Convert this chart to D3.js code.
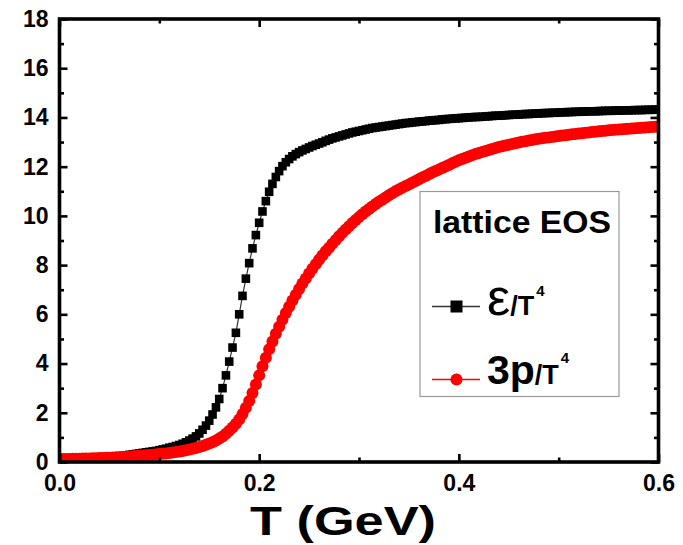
<!DOCTYPE html>
<html>
<head>
<meta charset="utf-8">
<script src="https://cdn.jsdelivr.net/npm/d3@7"></script>
<style>
  html, body { margin: 0; padding: 0; background: #fff; }
  svg { display: block; }
  text { font-family: "Liberation Sans", Arial, sans-serif; font-weight: bold; fill: #000; }
</style>
</head>
<body>
<svg id="chart" width="683" height="545"></svg>
<script>
// ---------- data ----------
// temperature grid (GeV), one entry per plotted marker
const temperature = [
  0.0000,0.0033,0.0067,0.0100,0.0133,0.0167,0.0200,0.0233,0.0267,0.0300,
  0.0333,0.0367,0.0400,0.0433,0.0467,0.0500,0.0533,0.0567,0.0600,0.0633,
  0.0667,0.0700,0.0733,0.0767,0.0800,0.0833,0.0867,0.0900,0.0933,0.0967,
  0.1000,0.1033,0.1067,0.1100,0.1133,0.1167,0.1200,0.1233,0.1267,0.1300,
  0.1333,0.1367,0.1400,0.1433,0.1467,0.1500,0.1533,0.1567,0.1600,0.1633,
  0.1667,0.1700,0.1733,0.1767,0.1800,0.1833,0.1867,0.1900,0.1933,0.1967,
  0.2000,0.2033,0.2067,0.2100,0.2133,0.2167,0.2200,0.2233,0.2267,0.2300,
  0.2333,0.2367,0.2400,0.2433,0.2467,0.2500,0.2533,0.2567,0.2600,0.2633,
  0.2667,0.2700,0.2733,0.2767,0.2800,0.2833,0.2867,0.2900,0.2933,0.2967,
  0.3000,0.3033,0.3067,0.3100,0.3133,0.3167,0.3200,0.3233,0.3267,0.3300,
  0.3333,0.3367,0.3400,0.3433,0.3467,0.3500,0.3533,0.3567,0.3600,0.3633,
  0.3667,0.3700,0.3733,0.3767,0.3800,0.3833,0.3867,0.3900,0.3933,0.3967,
  0.4000,0.4033,0.4067,0.4100,0.4133,0.4167,0.4200,0.4233,0.4267,0.4300,
  0.4333,0.4367,0.4400,0.4433,0.4467,0.4500,0.4533,0.4567,0.4600,0.4633,
  0.4667,0.4700,0.4733,0.4767,0.4800,0.4833,0.4867,0.4900,0.4933,0.4967,
  0.5000,0.5033,0.5067,0.5100,0.5133,0.5167,0.5200,0.5233,0.5267,0.5300,
  0.5333,0.5367,0.5400,0.5433,0.5467,0.5500,0.5533,0.5567,0.5600,0.5633,
  0.5667,0.5700,0.5733,0.5767,0.5800,0.5833,0.5867,0.5900,0.5933,0.5967,
  0.6000
];
// energy density  epsilon / T^4
const energyDensity = [
  0.08,0.08,0.09,0.09,0.09,0.10,0.10,0.11,0.11,0.12,
  0.13,0.14,0.15,0.16,0.17,0.18,0.19,0.21,0.23,0.25,
  0.27,0.29,0.31,0.33,0.35,0.37,0.39,0.41,0.43,0.45,
  0.48,0.51,0.54,0.58,0.61,0.65,0.69,0.74,0.80,0.87,
  0.95,1.04,1.16,1.31,1.48,1.68,1.93,2.22,2.56,3.00,
  3.52,4.08,4.65,5.25,6.00,6.75,7.45,8.08,8.68,9.22,
  9.72,10.18,10.60,10.98,11.30,11.58,11.82,12.02,12.18,12.31,
  12.42,12.51,12.59,12.66,12.72,12.78,12.84,12.89,12.94,12.99,
  13.05,13.10,13.15,13.19,13.23,13.27,13.31,13.35,13.39,13.42,
  13.45,13.48,13.51,13.54,13.57,13.59,13.61,13.63,13.65,13.67,
  13.69,13.71,13.73,13.75,13.77,13.78,13.80,13.81,13.83,13.84,
  13.85,13.87,13.88,13.89,13.90,13.92,13.93,13.94,13.95,13.96,
  13.97,13.98,13.99,14.00,14.01,14.02,14.02,14.03,14.04,14.05,
  14.06,14.07,14.07,14.08,14.09,14.10,14.11,14.11,14.12,14.13,
  14.14,14.14,14.15,14.16,14.16,14.17,14.18,14.18,14.19,14.19,
  14.20,14.21,14.21,14.22,14.22,14.23,14.23,14.24,14.24,14.25,
  14.25,14.25,14.26,14.26,14.27,14.27,14.27,14.28,14.28,14.28,
  14.29,14.29,14.29,14.30,14.30,14.30,14.31,14.31,14.31,14.32,
  14.32
];
// pressure  3p / T^4
const pressure3 = [
  0.12,0.12,0.12,0.12,0.13,0.13,0.13,0.14,0.14,0.14,
  0.15,0.15,0.16,0.16,0.17,0.17,0.18,0.19,0.19,0.20,
  0.21,0.22,0.23,0.24,0.25,0.26,0.27,0.28,0.29,0.31,
  0.32,0.34,0.35,0.37,0.39,0.41,0.43,0.45,0.48,0.51,
  0.54,0.57,0.61,0.65,0.70,0.75,0.80,0.87,0.95,1.04,
  1.15,1.27,1.40,1.55,1.73,1.95,2.20,2.48,2.80,3.15,
  3.52,3.89,4.24,4.58,4.90,5.21,5.50,5.78,6.05,6.31,
  6.56,6.80,7.03,7.25,7.46,7.66,7.85,8.04,8.22,8.39,
  8.56,8.71,8.87,9.02,9.17,9.31,9.45,9.58,9.71,9.83,
  9.95,10.07,10.18,10.28,10.38,10.48,10.57,10.66,10.75,10.84,
  10.92,11.00,11.07,11.14,11.21,11.28,11.35,11.42,11.49,11.56,
  11.62,11.69,11.76,11.82,11.88,11.95,12.01,12.07,12.14,12.20,
  12.26,12.31,12.36,12.41,12.46,12.51,12.56,12.60,12.64,12.68,
  12.72,12.76,12.80,12.83,12.86,12.89,12.92,12.95,12.98,13.01,
  13.03,13.06,13.08,13.11,13.13,13.15,13.17,13.19,13.21,13.23,
  13.25,13.27,13.28,13.30,13.32,13.33,13.35,13.36,13.38,13.39,
  13.41,13.42,13.44,13.45,13.46,13.48,13.49,13.50,13.51,13.52,
  13.53,13.54,13.55,13.56,13.57,13.58,13.59,13.60,13.61,13.62,
  13.63
];
const xMajorTicks = [0.0, 0.2, 0.4, 0.6];
const xMinorTicks = [0.1, 0.3, 0.5];
const yMajorTicks = [0, 2, 4, 6, 8, 10, 12, 14, 16, 18];
const yMinorTicks = [1, 3, 5, 7, 9, 11, 13, 15, 17];
const xTitle = "T (GeV)";
const legendTitle = "lattice EOS";

// ---------- layout ----------
const svg = d3.select("#chart");
const L = 59.5, R = 658.5, T = 19, B = 462;
const x = d3.scaleLinear().domain([0, 0.6]).range([L, R]);
const y = d3.scaleLinear().domain([0, 18]).range([B, T]);

svg.append("defs").append("clipPath").attr("id", "plotclip")
  .append("rect").attr("x", L).attr("y", T).attr("width", R - L).attr("height", B - T);

const plot = svg.append("g").attr("clip-path", "url(#plotclip)");

const eData = temperature.map((t, i) => [t, energyDensity[i]]);
const pData = temperature.map((t, i) => [t, pressure3[i]]);
const line = d3.line().x(d => x(d[0])).y(d => y(d[1]));

// black series: thin line + squares
plot.append("path").datum(eData).attr("d", line)
  .attr("fill", "none").attr("stroke", "#333").attr("stroke-width", 1.2);
const sq = 8.6;
plot.append("g").selectAll("rect").data(eData).join("rect")
  .attr("x", d => x(d[0]) - sq / 2).attr("y", d => y(d[1]) - sq / 2)
  .attr("width", sq).attr("height", sq).attr("fill", "#000");

// red series: line + circles
plot.append("path").datum(pData).attr("d", line)
  .attr("fill", "none").attr("stroke", "#ff0000").attr("stroke-width", 1.2);
plot.append("g").selectAll("circle").data(pData).join("circle")
  .attr("cx", d => x(d[0])).attr("cy", d => y(d[1])).attr("r", 6)
  .attr("fill", "#ff0000");

// ---------- axes ----------
function styleAxis(g) {
  g.select(".domain").remove();
  g.selectAll(".tick line").attr("stroke", "#000").attr("stroke-width", 2.6);
  g.selectAll("text").attr("font-size", 23).attr("font-weight", "bold")
    .attr("font-family", '"Liberation Sans", Arial, sans-serif').attr("fill", "#000");
}
// bottom
svg.append("g").attr("transform", `translate(0,${B})`)
  .call(d3.axisBottom(x).tickValues(xMajorTicks).tickSize(-8).tickPadding(13).tickFormat(d3.format(".1f")))
  .call(styleAxis);
svg.append("g").attr("transform", `translate(0,${B})`)
  .call(d3.axisBottom(x).tickValues(xMinorTicks).tickSize(-4.5).tickFormat(""))
  .call(styleAxis);
// top
svg.append("g").attr("transform", `translate(0,${T})`)
  .call(d3.axisTop(x).tickValues(xMajorTicks).tickSize(-8).tickFormat(""))
  .call(styleAxis);
svg.append("g").attr("transform", `translate(0,${T})`)
  .call(d3.axisTop(x).tickValues(xMinorTicks).tickSize(-4.5).tickFormat(""))
  .call(styleAxis);
// left
svg.append("g").attr("transform", `translate(${L},0)`)
  .call(d3.axisLeft(y).tickValues(yMajorTicks).tickSize(-8).tickPadding(11).tickFormat(d3.format("d")))
  .call(styleAxis);
svg.append("g").attr("transform", `translate(${L},0)`)
  .call(d3.axisLeft(y).tickValues(yMinorTicks).tickSize(-4.5).tickFormat(""))
  .call(styleAxis);
// right
svg.append("g").attr("transform", `translate(${R},0)`)
  .call(d3.axisRight(y).tickValues(yMajorTicks).tickSize(-8).tickFormat(""))
  .call(styleAxis);
svg.append("g").attr("transform", `translate(${R},0)`)
  .call(d3.axisRight(y).tickValues(yMinorTicks).tickSize(-4.5).tickFormat(""))
  .call(styleAxis);

// frame
svg.append("rect").attr("x", L).attr("y", T).attr("width", R - L).attr("height", B - T)
  .attr("fill", "none").attr("stroke", "#000").attr("stroke-width", 3.6);

// x title
svg.append("text").attr("x", 250).attr("y", 535)
  .attr("font-size", 41).attr("textLength", 186).attr("lengthAdjust", "spacingAndGlyphs")
  .text(xTitle);

// ---------- legend ----------
const lg = svg.append("g");
lg.append("rect").attr("x", 420).attr("y", 191.5).attr("width", 199).attr("height", 205)
  .attr("fill", "#fff").attr("stroke", "#999").attr("stroke-width", 1.2);
lg.append("text").attr("x", 433).attr("y", 233).attr("font-size", 31)
  .attr("textLength", 178).attr("lengthAdjust", "spacingAndGlyphs").text(legendTitle);

// entry 1
lg.append("line").attr("x1", 432).attr("x2", 480).attr("y1", 306.5).attr("y2", 306.5)
  .attr("stroke", "#333").attr("stroke-width", 1.3);
lg.append("rect").attr("x", 456.5 - 6).attr("y", 306.5 - 6).attr("width", 12).attr("height", 12).attr("fill", "#000");
const t1 = lg.append("text").attr("x", 487).attr("y", 315);
t1.append("tspan").attr("font-size", 52).attr("font-weight", "normal").text("ε");
t1.append("tspan").attr("font-size", 27).text("/T");
t1.append("tspan").attr("font-size", 15).attr("dy", -19).attr("dx", 2).text("4");

// entry 2
lg.append("line").attr("x1", 432).attr("x2", 480).attr("y1", 379.5).attr("y2", 379.5)
  .attr("stroke", "#ff0000").attr("stroke-width", 1.3);
lg.append("circle").attr("cx", 456.5).attr("cy", 379.5).attr("r", 6).attr("fill", "#ff0000");
const t2 = lg.append("text").attr("x", 487).attr("y", 383.5);
t2.append("tspan").attr("font-size", 41).text("3p");
t2.append("tspan").attr("font-size", 27).text("/T");
t2.append("tspan").attr("font-size", 15).attr("dy", -21).attr("dx", 2).text("4");
</script>
</body>
</html>
